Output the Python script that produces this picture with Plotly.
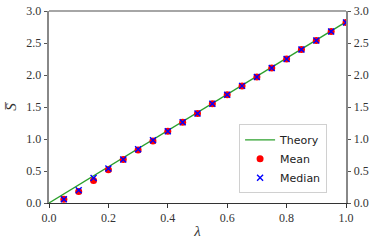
import plotly.graph_objects as go

lam = [0.05, 0.10, 0.15, 0.20, 0.25, 0.30, 0.35, 0.40, 0.45, 0.50,
       0.55, 0.60, 0.65, 0.70, 0.75, 0.80, 0.85, 0.90, 0.95, 1.00]
mean_vals = [0.06, 0.18, 0.35, 0.52, 0.68, 0.83, 0.97, 1.12, 1.26, 1.40,
             1.55, 1.69, 1.83, 1.97, 2.11, 2.25, 2.40, 2.54, 2.68, 2.82]
median_vals = [0.06, 0.20, 0.39, 0.54, 0.68, 0.84, 0.98, 1.12, 1.26, 1.40,
               1.55, 1.69, 1.83, 1.97, 2.11, 2.25, 2.40, 2.54, 2.68, 2.82]
theory_x = [0.0, 1.0]
theory_y = [0.0, 2.83]
yticks = [0.0, 0.5, 1.0, 1.5, 2.0, 2.5, 3.0]
xticks = [0.0, 0.2, 0.4, 0.6, 0.8, 1.0]

serif = "'Liberation Serif', 'Times New Roman', 'DejaVu Serif', serif"
sans = "DejaVu Sans"

fig = go.Figure()
fig.add_trace(go.Scatter(x=theory_x, y=theory_y, mode="lines", name="Theory",
                         line=dict(color="#2ca02c", width=1.3)))
fig.add_trace(go.Scatter(x=lam, y=mean_vals, mode="markers", name="Mean",
                         marker=dict(color="red", size=7, symbol="circle")))
fig.add_trace(go.Scatter(x=lam, y=median_vals, mode="markers", name="Median",
                         marker=dict(color="blue", size=6, symbol="x-thin",
                                     line=dict(color="blue", width=1.4))))
# invisible trace for right axis
fig.add_trace(go.Scatter(x=[0], y=[0], yaxis="y2", mode="markers",
                         marker=dict(opacity=0), showlegend=False, hoverinfo="skip"))

tickfont = dict(family=serif, size=12, color="#333333")
fig.update_layout(
    width=374, height=248,
    font=dict(family=serif),
    margin=dict(l=49, r=28, t=11, b=45, autoexpand=False),
    paper_bgcolor="white", plot_bgcolor="white",
    showlegend=True,
    xaxis=dict(range=[0, 1], tickvals=xticks, ticktext=[f"{v:.1f}" for v in xticks],
               showgrid=False, zeroline=False, showline=True, linecolor="#333333",
               linewidth=1.2, ticks="outside", ticklen=3.5, tickcolor="#333333",
               tickfont=tickfont, automargin=False,
               title=dict(text="<i>λ</i>", font=dict(family=serif, size=15, color="#333333"),
                          standoff=1)),
    yaxis=dict(range=[0, 3], tickvals=yticks, ticktext=[f"{v:.1f}" for v in yticks],
               showgrid=False, zeroline=False, showline=True, linecolor="#888888",
               linewidth=1.5, ticks="outside", ticklen=3.5, tickcolor="#555555",
               tickfont=tickfont, automargin=False,
               title=dict(text="<i>S\u0305</i>", font=dict(family=serif, size=15, color="#333333"),
                          standoff=6)),
    yaxis2=dict(range=[0, 3], tickvals=yticks, ticktext=[f"{v:.1f}" for v in yticks],
                overlaying="y", side="right", showgrid=False, zeroline=False,
                showline=True, linecolor="#888888", linewidth=1.5, automargin=False,
                ticks="outside", ticklen=3.5, tickcolor="#555555", tickfont=tickfont),
    legend=dict(x=0.64, y=0.41, xanchor="left", yanchor="top",
                bgcolor="rgba(255,255,255,0.8)", bordercolor="#d0d0d0", borderwidth=1,
                font=dict(family=sans, size=11, color="#222222"),
                tracegroupgap=0, itemwidth=30),
    shapes=[dict(type="line", xref="paper", yref="paper", x0=0, x1=1, y0=1, y1=1,
                 line=dict(color="#888888", width=1.5))],
)
fig.write_html("out.html", config={"displayModeBar": False},
               post_script="document.body.style.margin='0';document.body.style.overflow='hidden';")
